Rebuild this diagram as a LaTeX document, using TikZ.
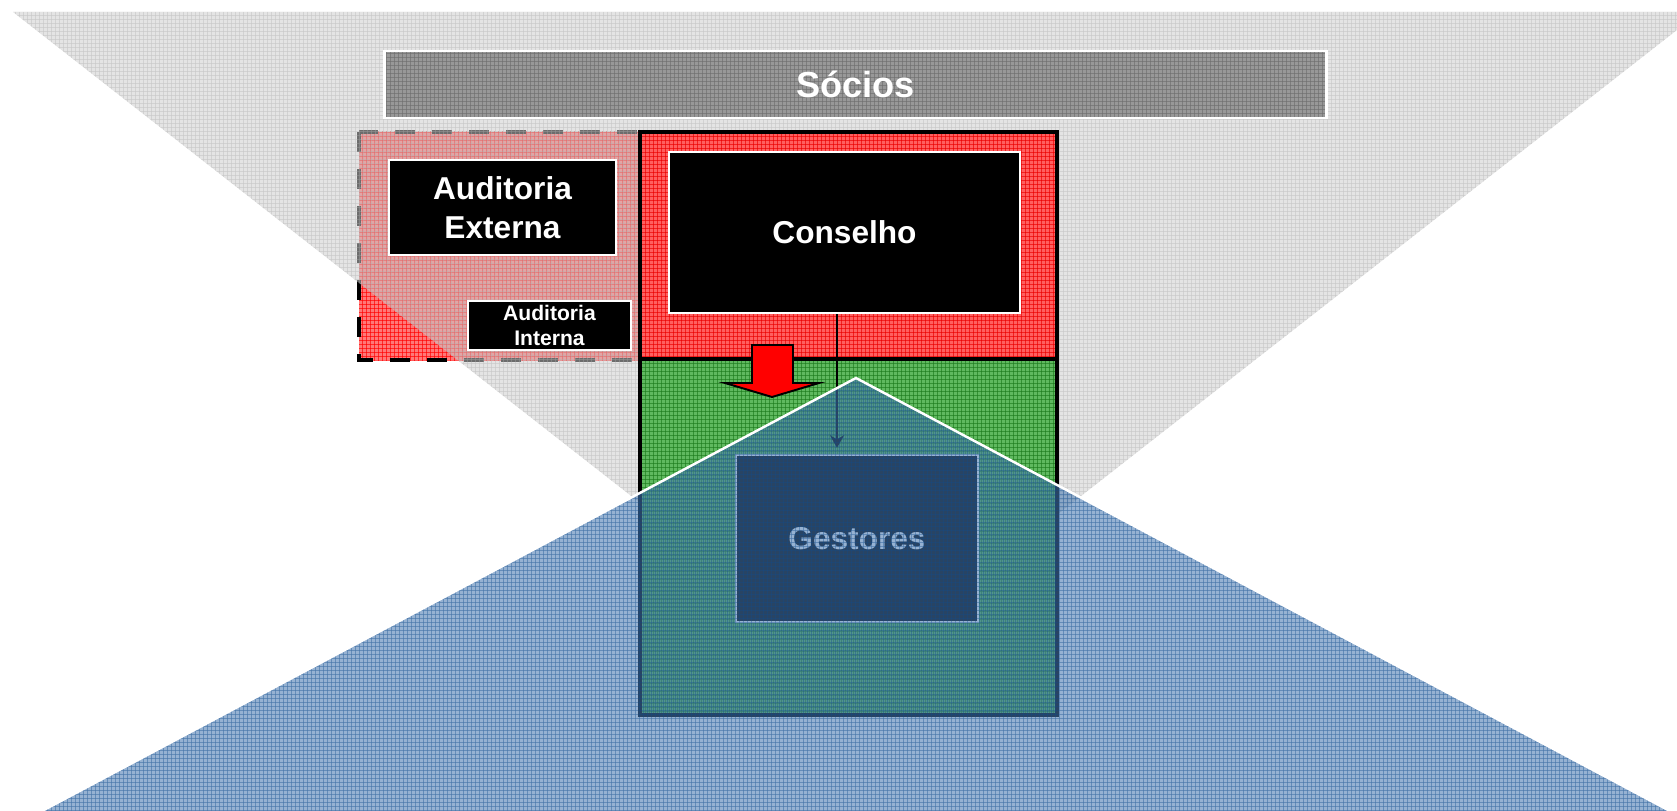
\documentclass[tikz,border=0pt]{standalone}
\usepackage{fontspec}
\setmainfont{Liberation Sans}
\usetikzlibrary{arrows.meta,patterns}
\definecolor{audRed}{RGB}{255,120,120}
\definecolor{triGray}{RGB}{204,204,204}
\definecolor{triGrid}{RGB}{176,176,176}
\definecolor{socGray}{RGB}{152,152,152}
\definecolor{socGrid}{RGB}{112,112,112}
\definecolor{consRed}{RGB}{255,95,95}
\definecolor{consGrid}{RGB}{235,0,0}
\definecolor{gestGreen}{RGB}{95,185,95}
\definecolor{gestGrid}{RGB}{30,125,30}
\definecolor{triBlue}{RGB}{71,120,176}
\definecolor{blueGrid}{RGB}{17,76,140}
% 4px grid, like the pattern fill of the slide
\pgfdeclarepatternformonly{fine grid}{\pgfpointorigin}{\pgfqpoint{2.2677pt}{2.2677pt}}{\pgfqpoint{2.2677pt}{2.2677pt}}{
	\pgfsetlinewidth{0.4pt}
	\pgfpathmoveto{\pgfqpoint{0pt}{0.2pt}}\pgfpathlineto{\pgfqpoint{2.2677pt}{0.2pt}}
	\pgfpathmoveto{\pgfqpoint{0.2pt}{0pt}}\pgfpathlineto{\pgfqpoint{0.2pt}{2.2677pt}}
	\pgfusepath{stroke}}

\begin{document}
\begin{tikzpicture}[x=0.02cm,y=-0.02cm,>={Stealth[length=0.25cm,width=0.28cm]},
	card/.style={draw=white, fill=black, text=white, line width=1.4pt, inner sep=0pt, align=center, font=\bfseries\fontsize{18}{22}\selectfont},
	zone/.style={draw=black, line width=2.3pt, postaction={draw}},
	tex/.style={postaction={pattern=fine grid, pattern color=#1}}]
	\useasboundingbox (0,0) rectangle (1677,811);
	\clip (0,0) rectangle (1677,811);
	% auditoria (dashed)
	\fill [audRed, tex=red] (359,132) rectangle (640,360);
	\draw [line width=2.5pt, dash pattern=on 0.4cm off 0.34cm] (359,132) rectangle (640,360);
	% socios triangle
	\fill [triGray, opacity=0.53, tex=triGrid] (13,12) -- (1700,12) -- (856,672) -- cycle;
	\node [card, fill=socGray, tex=socGrid, postaction={draw}, minimum width=18.84cm, minimum height=1.33cm, font=\bfseries\fontsize{20.6}{24}\selectfont] (socios) at (855.5,84.5) {Sócios};
	\path [fill=consRed, tex=consGrid, zone] (640,132) rectangle (1057,359);
	\path [fill=gestGreen, tex=gestGrid, zone] (640,359) rectangle (1057,715);
	\node [card, minimum width=4.54cm, minimum height=1.9cm] (externa) at (502.5,207.5) {Auditoria\\Externa};
	\node [card, minimum width=3.26cm, minimum height=0.98cm, font=\bfseries\fontsize{12}{14.2}\selectfont] (interna) at (549.5,325.5) {Auditoria\\Interna};
	\node [card, minimum width=7.02cm, minimum height=3.22cm] (conselho) at (844.5,232.5) {Conselho};
	\node [card, minimum width=4.84cm, minimum height=3.34cm] (gestores) at (857,538.5) {Gestores};
	\draw [->, line width=1.1pt, shorten >=0.12cm] ([xshift=-0.15cm]conselho.south) -- ([xshift=-0.15cm]conselho.south |- gestores.north);
	\draw [line width=1.1pt, fill=red] (752,345) -- (793,345) -- (793,383) -- (819,383) -- (772,397) -- (725,383) -- (752,383) -- cycle;
	% gestores triangle
	\fill [triBlue, opacity=0.57, tex=blueGrid] (42,811) -- (856,378) -- (1670,811) -- cycle;
	\draw [white, line width=1.4pt] (42,811) -- (856,378) -- (1670,811);
\end{tikzpicture}
\end{document}
